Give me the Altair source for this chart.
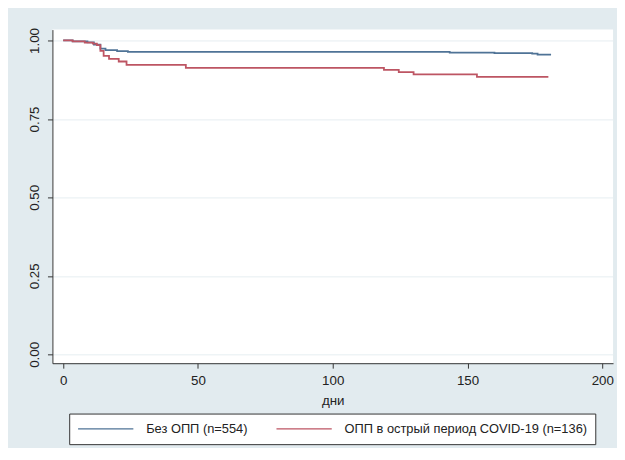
import altair as alt
import pandas as pd

# Kaplan-Meier steps
blue_name = "Без ОПП (n=554)"
blue_days = [0, 3.5, 9, 11.4, 13.8, 15.7, 20, 24, 143.4, 160, 174, 176, 181]
blue_surv = [1.0, 0.997, 0.994, 0.987, 0.974, 0.969, 0.966, 0.964, 0.961, 0.960, 0.958, 0.955, 0.955]

red_name = "ОПП в острый период COVID-19 (n=136)"
red_days = [0, 3.5, 8, 11, 12.5, 13.8, 15, 17, 20.6, 23.5, 45.5, 119, 124.5, 130, 153.5, 180]
red_surv = [1.0, 0.997, 0.993, 0.99, 0.985, 0.967, 0.951, 0.941, 0.933, 0.922, 0.913, 0.906, 0.899, 0.892, 0.884, 0.884]

x_ticks = [0, 50, 100, 150, 200]
y_ticks = [0.0, 0.25, 0.5, 0.75, 1.0]

rows = []
for i, (d, s) in enumerate(zip(blue_days, blue_surv)):
    rows.append({"group": blue_name, "day": d, "surv": s, "order": i})
for i, (d, s) in enumerate(zip(red_days, red_surv)):
    rows.append({"group": red_name, "day": d, "surv": s, "order": i})
df = pd.DataFrame(rows)

FONT = "Liberation Sans"

chart = (
    alt.Chart(df)
    .mark_line(interpolate="step-after", strokeWidth=1.8)
    .encode(
        x=alt.X(
            "day:Q",
            scale=alt.Scale(domain=[-4, 204], nice=False, zero=False),
            axis=alt.Axis(
                values=x_ticks,
                title="дни",
                grid=False,
                format="d",
                tickSize=5,
                labelPadding=6,
                titlePadding=6,
            ),
        ),
        y=alt.Y(
            "surv:Q",
            scale=alt.Scale(domain=[-0.0283, 1.0346], nice=False, zero=False),
            axis=alt.Axis(
                values=y_ticks,
                title=None,
                format=".2f",
                tickSize=5,
                labelAngle=270,
                labelAlign="center",
                labelBaseline="bottom",
                labelPadding=6,
                grid=True,
            ),
        ),
        color=alt.Color(
            "group:N",
            sort=[blue_name, red_name],
            scale=alt.Scale(domain=[blue_name, red_name], range=["#4f7396", "#bd5563"]),
            legend=alt.Legend(
                title=None,
                orient="none",
                legendX=17,
                legendY=389,
                direction="horizontal",
                columns=2,
                symbolType="stroke",
                symbolSize=3136,
                symbolStrokeWidth=1.4,
                clipHeight=15,
                labelOffset=12,
                columnPadding=28,
                padding=8,
                fillColor="white",
                strokeColor="#333333",
                labelFontSize=13,
                labelFont=FONT,
                labelColor="#222222",
                labelLimit=400,
            ),
        ),
        order="order:Q",
    )
    .properties(
        width=568,
        height=338,
        autosize=alt.AutoSizeParams(type="none"),
        padding={"left": 45, "top": 19, "right": 4, "bottom": 83},
        background="#e2ebef",
    )
    .configure_view(fill="white", stroke=None)
    .configure_axis(
        labelFont=FONT,
        titleFont=FONT,
        labelFontSize=13.5,
        titleFontSize=13.5,
        titleFontWeight="normal",
        labelColor="#222222",
        titleColor="#222222",
        domainColor="#333333",
        tickColor="#333333",
        domainWidth=1,
        tickWidth=1,
        gridColor="#e6eef1",
        gridWidth=1,
    )
)

chart.save("out.html", embed_options={"renderer": "svg", "actions": False})
